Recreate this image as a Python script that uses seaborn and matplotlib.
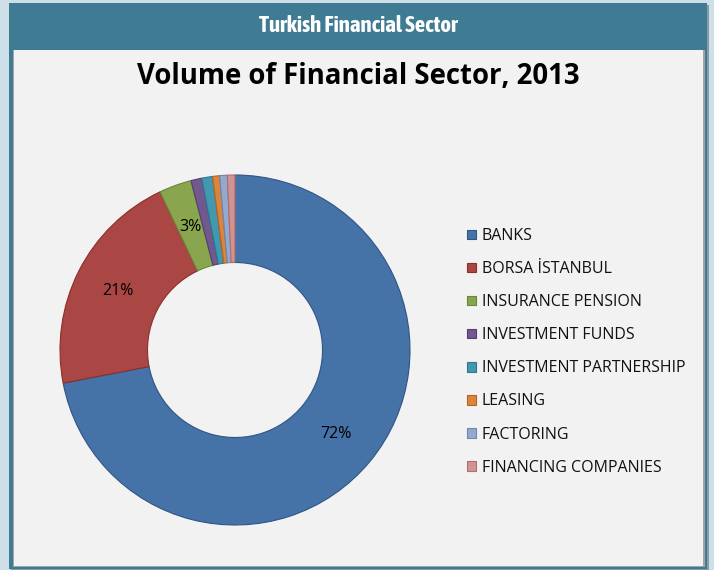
import matplotlib
matplotlib.use("Agg")
import matplotlib.pyplot as plt
from matplotlib import font_manager
from matplotlib.patches import Rectangle
import seaborn as sns
import numpy as np

# Sector shares of total financial-sector volume (%)
sectors = ["BANKS", "BORSA İSTANBUL", "INSURANCE PENSION", "INVESTMENT FUNDS",
           "INVESTMENT PARTNERSHIP", "LEASING", "FACTORING", "FINANCING COMPANIES"]
shares = [72.0, 21.0, 3.0, 1.0, 1.0, 0.65, 0.7, 0.7]
shown_labels = ["72%", "21%", "3%", "", "", "", "", ""]

fill_colors = ["#4572A7", "#AA4643", "#89A54E", "#71588F",
               "#4198AF", "#DB843D", "#93A9CF", "#D19392"]
edge_colors = ["#2f5585", "#8a2f2c", "#6a8637", "#553f70",
               "#2b7a8f", "#b3641f", "#6f86ae", "#ad6f6e"]

sns.set_theme(style="white")
plt.rcParams["font.family"] = ["Open Sans", "DejaVu Sans"]


def _is_bold(f):
    w = f.weight
    if isinstance(w, str):
        return w.lower() in ("bold", "heavy", "black", "semibold", "demibold", "extra bold")
    return w >= 600


def _is_narrow(f):
    return "Condensed" in f.name or "Narrow" in f.name


# pick an upright, narrow, bold face for the banner if one is installed
fonts = font_manager.fontManager.ttflist
narrow_bold = sorted({f.name for f in fonts
                      if _is_narrow(f) and _is_bold(f) and f.style == "normal"})
narrow_upright = sorted({f.name for f in fonts if _is_narrow(f) and f.style == "normal"})
banner_family = (narrow_bold or narrow_upright)[:1] + ["DejaVu Sans"]

W, H = 714, 570
fig = plt.figure(figsize=(W / 100, H / 100), dpi=100)
fig.patch.set_facecolor("#cddfe9")


def px_rect(x0, y0, x1, y1, **kw):
    """Rectangle given in pixel coordinates measured from the top-left."""
    fig.add_artist(Rectangle((x0 / W, 1 - y1 / H), (x1 - x0) / W, (y1 - y0) / H,
                             transform=fig.transFigure, **kw))


# frame: drop shadow, teal border, light panel, header band
px_rect(11, 5, 709, 571, facecolor="#8a9aa3", edgecolor="none", zorder=0)
px_rect(9, 3, 707, 569, facecolor="#3f7c94", edgecolor="none", zorder=0)
px_rect(13, 50, 705, 567, facecolor="#9fa6a9", edgecolor="none", zorder=0)
px_rect(14, 50, 703, 566, facecolor="#f2f2f2", edgecolor="none", zorder=0)

banner = fig.text(358 / W, 1 - 26 / H, "Turkish Financial Sector", color="white",
                  fontsize=15, fontweight="bold", fontstyle="normal",
                  ha="center", va="center", family=banner_family, zorder=3)
# fit the banner to its span across the header
fig.canvas.draw()
bw = banner.get_window_extent().width
banner.set_fontsize(15 * 200 / bw)

fig.text(358 / W, 1 - 77 / H, "Volume of Financial Sector, 2013", color="black",
         fontsize=19.8, fontweight="bold", ha="center", va="center", zorder=3)

# doughnut
cx, cy, r = 235, 350, 175
ax = fig.add_axes([(cx - r) / W, 1 - (cy + r) / H, 2 * r / W, 2 * r / H])
wedges, _ = ax.pie(shares, colors=fill_colors, startangle=90, counterclock=False,
                   radius=1.0, wedgeprops=dict(width=0.5, linewidth=0.8))
for w, ec in zip(wedges, edge_colors):
    w.set_edgecolor(ec)
ax.set_xlim(-1, 1)
ax.set_ylim(-1, 1)
ax.set_aspect("equal")
ax.axis("off")

for w, txt in zip(wedges, shown_labels):
    if not txt:
        continue
    mid = np.deg2rad((w.theta1 + w.theta2) / 2)
    ax.text(0.75 * np.cos(mid), 0.75 * np.sin(mid), txt, ha="center", va="center",
            fontsize=11.5, color="black")

leg = fig.legend(wedges, sectors, loc="upper left",
                 bbox_to_anchor=(459.5 / W, 1 - 220 / H), frameon=False,
                 fontsize=11.5, handlelength=0.55, handleheight=0.55,
                 handletextpad=0.35, labelspacing=1.07, borderpad=0)
for t in leg.get_texts():
    t.set_color("#111111")

fig.savefig("out.png", dpi=100, facecolor=fig.get_facecolor())
